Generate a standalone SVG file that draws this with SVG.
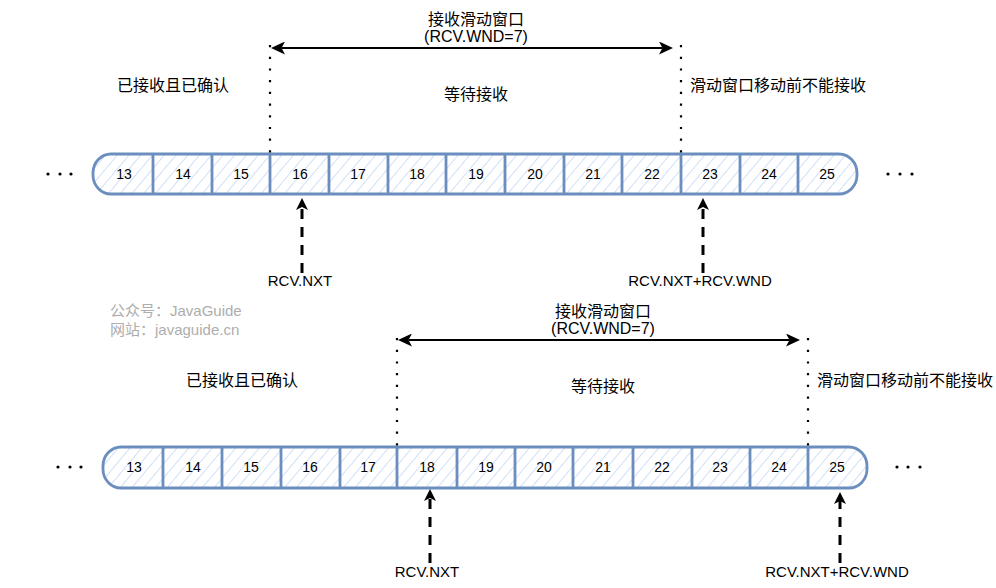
<svg xmlns="http://www.w3.org/2000/svg" width="996" height="588" viewBox="0 0 996 588">
<style>
text{font-family:"Liberation Sans","Noto Sans CJK SC",sans-serif;fill:#000}
.lbl{font-size:15px}
.big{font-size:16px}
.num{font-size:14px;text-anchor:middle}
.c{text-anchor:middle}
.wm{font-size:15px;fill:#adadad}
.strip{fill:url(#hatch);stroke:#6c8ebf;stroke-width:2.8}
.div{stroke:#6c8ebf;stroke-width:2.8}
.dot{stroke:#000;stroke-width:2.2;stroke-dasharray:2.2 9.5;fill:none}
.dash{stroke:#000;stroke-width:3;stroke-dasharray:10 8;fill:none;marker-end:url(#ah)}
.dbl{stroke:#000;stroke-width:2;fill:none;marker-start:url(#ah2);marker-end:url(#ah2)}
</style>
<defs>
<pattern id="hatch" width="9" height="9" patternUnits="userSpaceOnUse" patternTransform="rotate(40)">
<rect width="9" height="9" fill="#fff"/>
<line x1="0" y1="0" x2="0" y2="9" stroke="#cfe0f7" stroke-width="2"/>
</pattern>
<marker id="ah" viewBox="0 0 12 12" refX="3" refY="6" markerWidth="12" markerHeight="12" markerUnits="userSpaceOnUse" orient="auto">
<path d="M0,0 L12,6 L0,12 L3,6 Z" fill="#000"/>
</marker>
<marker id="ah2" viewBox="0 0 14 13" refX="3.5" refY="6.5" markerWidth="14" markerHeight="13" markerUnits="userSpaceOnUse" orient="auto-start-reverse">
<path d="M0,0 L14,6.5 L0,13 L3.5,6.5 Z" fill="#000"/>
</marker>
</defs>

<!-- TOP DIAGRAM -->
<g id="top-strip">
<rect class="strip" x="93" y="154" width="764" height="40" rx="18" ry="19"/>
<path class="div" d="M153,154V194M212,154V194M270,154V194M329,154V194M388,154V194M446,154V194M505,154V194M564,154V194M622,154V194M681,154V194M740,154V194M798,154V194"/>
</g>
<g id="top-cells">
<g id="t13"><text class="num" x="124" y="179">13</text></g>
<g id="t14"><text class="num" x="183" y="179">14</text></g>
<g id="t15"><text class="num" x="241" y="179">15</text></g>
<g id="t16"><text class="num" x="300" y="179">16</text></g>
<g id="t17"><text class="num" x="358" y="179">17</text></g>
<g id="t18"><text class="num" x="417" y="179">18</text></g>
<g id="t19"><text class="num" x="476" y="179">19</text></g>
<g id="t20"><text class="num" x="535" y="179">20</text></g>
<g id="t21"><text class="num" x="593" y="179">21</text></g>
<g id="t22"><text class="num" x="652" y="179">22</text></g>
<g id="t23"><text class="num" x="710" y="179">23</text></g>
<g id="t24"><text class="num" x="769" y="179">24</text></g>
<g id="t25"><text class="num" x="827" y="179">25</text></g>
</g>
<g id="top-ellipsis">
<circle cx="48" cy="174" r="1.6"/><circle cx="60" cy="174" r="1.6"/><circle cx="71" cy="174" r="1.6"/>
<circle cx="888" cy="174" r="1.6"/><circle cx="900" cy="174" r="1.6"/><circle cx="912" cy="174" r="1.6"/>
</g>
<g id="top-labels">
<text class="big c" x="476" y="25">接收滑动窗口</text>
<text class="big c" x="476" y="42">(RCV.WND=7)</text>
<text class="big c" x="476" y="100">等待接收</text>
<text class="big c" x="173" y="91">已接收且已确认</text>
<text class="big c" x="778" y="91">滑动窗口移动前不能接收</text>
<text class="lbl c" x="300" y="286">RCV.NXT</text>
<text class="lbl c" x="700" y="286">RCV.NXT+RCV.WND</text>
</g>

<!-- BOTTOM DIAGRAM -->
<g id="bottom-strip">
<rect class="strip" x="103" y="447" width="764" height="41" rx="18" ry="19"/>
<path class="div" d="M163,447V488M222,447V488M281,447V488M340,447V488M397,447V488M457,447V488M515,447V488M573,447V488M633,447V488M692,447V488M750,447V488M808,447V488"/>
</g>
<g id="bottom-cells">
<g id="b13"><text class="num" x="134" y="472">13</text></g>
<g id="b14"><text class="num" x="193" y="472">14</text></g>
<g id="b15"><text class="num" x="251" y="472">15</text></g>
<g id="b16"><text class="num" x="310" y="472">16</text></g>
<g id="b17"><text class="num" x="368" y="472">17</text></g>
<g id="b18"><text class="num" x="427" y="472">18</text></g>
<g id="b19"><text class="num" x="486" y="472">19</text></g>
<g id="b20"><text class="num" x="544" y="472">20</text></g>
<g id="b21"><text class="num" x="603" y="472">21</text></g>
<g id="b22"><text class="num" x="662" y="472">22</text></g>
<g id="b23"><text class="num" x="720" y="472">23</text></g>
<g id="b24"><text class="num" x="779" y="472">24</text></g>
<g id="b25"><text class="num" x="837" y="472">25</text></g>
</g>
<g id="bottom-ellipsis">
<circle cx="58" cy="467" r="1.6"/><circle cx="70" cy="467" r="1.6"/><circle cx="81" cy="467" r="1.6"/>
<circle cx="897" cy="467" r="1.6"/><circle cx="908" cy="467" r="1.6"/><circle cx="920" cy="467" r="1.6"/>
</g>
<g id="bottom-labels">
<text class="big c" x="603" y="317">接收滑动窗口</text>
<text class="big c" x="603" y="334">(RCV.WND=7)</text>
<text class="big c" x="603" y="392">等待接收</text>
<text class="big c" x="242" y="386">已接收且已确认</text>
<text class="big c" x="905" y="386">滑动窗口移动前不能接收</text>
<text class="lbl c" x="427" y="577">RCV.NXT</text>
<text class="lbl c" x="837" y="577">RCV.NXT+RCV.WND</text>
</g>

<g id="watermark">
<text class="wm" x="110" y="316">公众号：JavaGuide</text>
<text class="wm" x="110" y="335">网站：javaguide.cn</text>
</g>

<g id="connectors">
<path class="dot" d="M270,45V154"/>
<path class="dot" d="M681,45V154"/>
<path class="dbl" d="M281.5,48H662.5"/>
<path class="dash" d="M302,273V207"/>
<path class="dash" d="M703,273V207"/>
<path class="dot" d="M397,338V447"/>
<path class="dot" d="M808,338V447"/>
<path class="dbl" d="M408.5,340H789.5"/>
<path class="dash" d="M430,563V498"/>
<path class="dash" d="M840,563V501"/>
</g>
</svg>
